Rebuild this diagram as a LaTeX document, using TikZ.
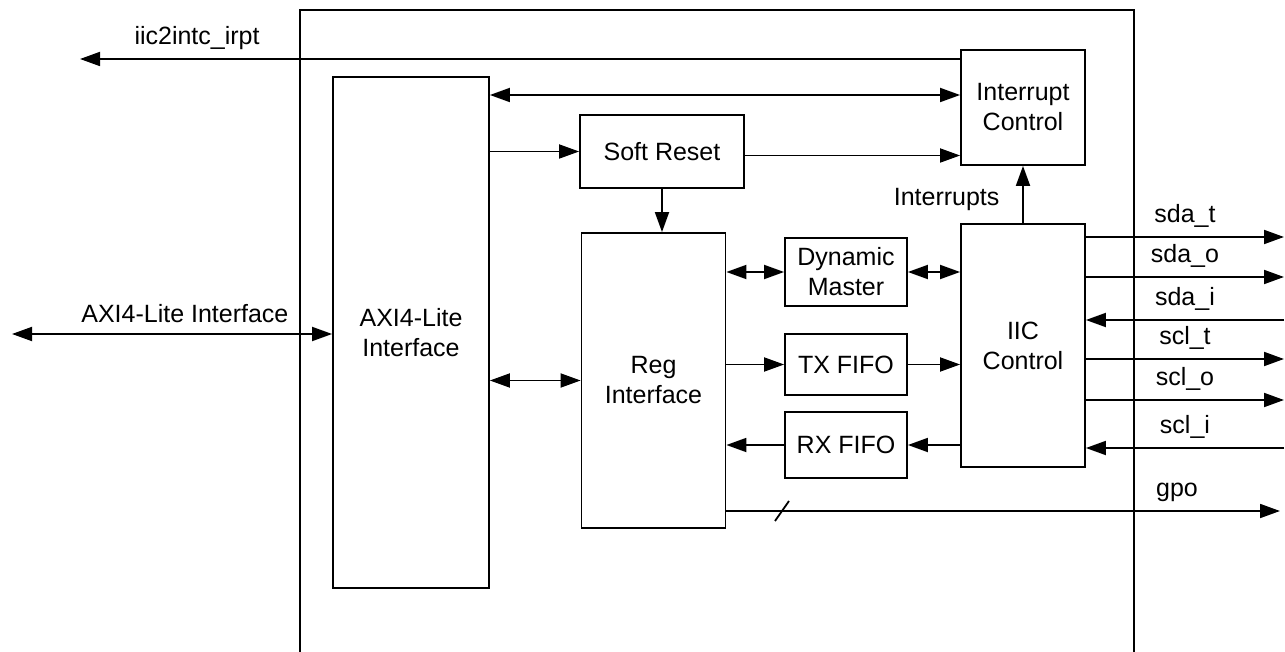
\documentclass[tikz,border=0pt]{standalone}
\usepackage{fontspec}
\setmainfont{Liberation Sans}
\usetikzlibrary{arrows.meta,positioning}

\begin{document}
\begin{tikzpicture}[x=0.5pt, y=-0.5pt, line width=0.9pt,
  >={Triangle[length=10pt,width=7pt]},
  font=\fontsize{12.5pt}{15pt}\selectfont]
\tikzstyle{block} = [draw=black, text centered, align=center, inner sep=0pt]
\tikzstyle{signal} = [above=1pt, midway]

\useasboundingbox (0,0) rectangle (1285,652);

% outer core boundary (open at the bottom)
\draw (300,652) -- (300,10) -- (1134,10) -- (1134,652);

\node (AXI) [block, minimum width=78pt, minimum height=255.5pt] at (411,332.5) {AXI4-Lite\\Interface};
\node (INT) [block, minimum width=62pt, minimum height=57.5pt] at (1023,107.5) {Interrupt\\Control};
\node (SR)  [block, minimum width=82pt, minimum height=36.5pt] at (662,151.5) {Soft Reset};
\node (REG) [block, minimum width=72pt, minimum height=147.5pt] at (653.5,380.5) {Reg\\Interface};
\node (DM)  [block, minimum width=61pt, minimum height=34pt] at (846,272) {Dynamic\\Master};
\node (TX)  [block, minimum width=61pt, minimum height=30.5pt] at (846,364.5) {TX FIFO};
\node (RX)  [block, minimum width=61pt, minimum height=33pt] at (846,445) {RX FIFO};
\node (IIC) [block, minimum width=62pt, minimum height=121.5pt] at (1023,345.5) {IIC\\Control};

\coordinate (IRQ) at (80,59);
\coordinate (AXIEXT) at (12,334);
\coordinate (SDAT) at (1284,237);
\coordinate (SDAO) at (1284,277);
\coordinate (SDAI) at (1284,320);
\coordinate (SCLT) at (1284,359);
\coordinate (SCLO) at (1284,400);
\coordinate (SCLI) at (1284,448);
\coordinate (GPO) at (1280,511);
\coordinate (GPOSL) at (782,511);

\draw [->] (INT.west |- IRQ) -- node [pos=0.867, above=1pt] {iic2intc\_irpt} (IRQ);
\draw [<->] (AXIEXT) -- node [pos=0.54, above=2pt] {AXI4-Lite Interface} (AXI.west |- AXIEXT);

\draw [<->] (AXI.east |- 0,95) -- (INT.west |- 0,95);
\draw [->] (AXI.east |- SR.west) -- (SR.west);
\draw [->] ([yshift=-2pt]SR.east) -- ([yshift=-2pt]INT.west |- SR.east);
\draw [->] (SR.south) -- (SR.south |- REG.north);
\draw [<->] (AXI.east |- REG.west) -- (REG.west);
\draw [<->] (REG.east |- DM.west) -- (DM.west);
\draw [<->] (DM.east) -- (IIC.west |- DM.east);
\draw [->] (REG.east |- TX.west) -- (TX.west);
\draw [->] (TX.east) -- (IIC.west |- TX.east);
\draw [->] (IIC.west |- RX.east) -- (RX.east);
\draw [->] (RX.west) -- (REG.east |- RX.west);
\draw [->] (IIC.north) -- node [left=8pt, yshift=-2.5pt] {Interrupts} (INT.south);

\draw [->] (IIC.east |- SDAT) -- node [signal] {sda\_t} (SDAT);
\draw [->] (IIC.east |- SDAO) -- node [signal] {sda\_o} (SDAO);
\draw [->] (SDAI) -- node [signal] {sda\_i} (IIC.east |- SDAI);
\draw [->] (IIC.east |- SCLT) -- node [signal] {scl\_t} (SCLT);
\draw [->] (IIC.east |- SCLO) -- node [signal] {scl\_o} (SCLO);
\draw [->] (SCLI) -- node [signal] {scl\_i} (IIC.east |- SCLI);

\draw [->] (REG.east |- GPO) -- node [pos=0.76, above right=1pt] {gpo} (GPO);
\draw (GPOSL) ++(-7,10) -- ++(14,-20);
\end{tikzpicture}
\end{document}
